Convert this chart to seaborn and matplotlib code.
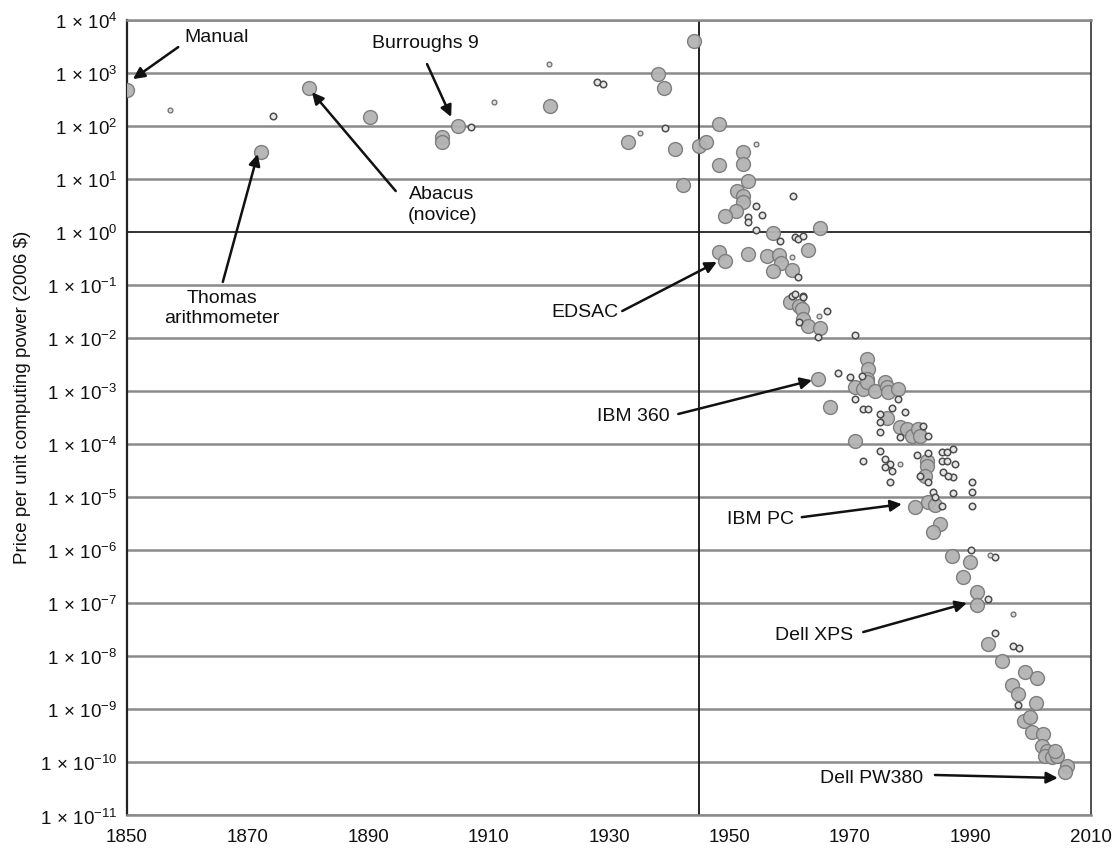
import numpy as np
import pandas as pd
import matplotlib
matplotlib.use("Agg")
import matplotlib.pyplot as plt
import seaborn as sns

# ---------------- data ----------------
years = [
    1850.0, 1857.1, 1874.2, 1872.2, 1880.2, 1890.3, 1902.3, 1902.3, 1904.9, 1907.1,
    1910.9, 1920.0, 1920.2, 1928.0, 1929.0, 1933.2, 1935.1, 1938.1, 1939.1, 1939.3,
    1941.0, 1942.3, 1944.1, 1944.9, 1946.1, 1948.3, 1954.4, 1952.2, 1952.2, 1948.3,
    1953.1, 1951.2, 1952.2, 1952.2, 1951.1, 1949.3, 1954.4, 1955.4, 1953.1, 1953.1,
    1960.5, 1954.4, 1965.0, 1957.3, 1958.4, 1960.9, 1961.4, 1962.2, 1963.0, 1948.3,
    1949.3, 1953.1, 1956.2, 1958.2, 1958.5, 1960.4, 1957.2, 1960.4, 1961.4, 1960.4,
    1962.2, 1960.0, 1960.9, 1961.5, 1962.2, 1962.0, 1962.2, 1963.0, 1961.5, 1965.0,
    1964.7, 1966.2, 1964.9, 1970.8, 1964.7, 1968.0, 1970.0, 1972.8, 1973.0, 1972.8,
    1972.0, 1970.8, 1972.2, 1972.8, 1974.2, 1975.8, 1976.1, 1976.3, 1978.0, 1970.8,
    1978.0, 1966.7, 1972.2, 1973.0, 1977.0, 1979.1, 1975.0, 1975.0, 1976.1, 1978.3,
    1979.5, 1980.3, 1981.3, 1982.1, 1981.6, 1982.9, 1978.3, 1975.0, 1970.8, 1975.0,
    1972.2, 1975.8, 1976.6, 1977.0, 1975.8, 1978.3, 1981.1, 1982.8, 1982.8, 1982.4,
    1981.6, 1982.9, 1985.3, 1986.1, 1987.1, 1985.3, 1986.1, 1987.4, 1985.4, 1987.1,
    1986.3, 1976.6, 1982.9, 1990.2, 1990.2, 1990.2, 1987.1, 1983.8, 1984.1, 1980.8,
    1982.9, 1984.1, 1985.3, 1984.9, 1983.8, 1986.9, 1990.1, 1989.9, 1993.2, 1994.1,
    1988.8, 1991.1, 1991.1, 1992.9, 1997.1, 1994.1, 1992.9, 1997.1, 1998.0, 1995.2,
    1999.0, 2001.0, 1996.9, 1997.9, 1997.9, 2000.9, 1998.9, 1999.9, 2000.2, 2002.0,
    2001.9, 2002.7, 2002.4, 2003.5, 2004.4, 2004.0, 2006.0, 2005.7,
]
prices = [
    4.7e2, 2.0e2, 1.53e2, 3.2e1, 5.2e2, 1.47e2, 6.1e1, 4.9e1, 9.9e1, 9.5e1,
    2.8e2, 1.46e3, 2.36e2, 6.7e2, 6.1e2, 4.9e1, 7.3e1, 9.5e2, 5.2e2, 9.1e1,
    3.65e1, 7.7, 3.96e3, 4.2e1, 4.9e1, 1.08e2, 4.5e1, 3.2e1, 1.9e1, 1.82e1,
    9.1, 5.9, 4.75, 3.66, 2.48, 2.0, 3.08, 2.08, 1.91, 1.54,
    4.75, 1.09, 1.19, 0.95, 0.67, 0.80, 0.73, 0.84, 0.456, 0.418,
    0.283, 0.383, 0.352, 0.367, 0.26, 0.337, 0.183, 0.191, 0.141, 0.062,
    0.062, 0.0477, 0.0675, 0.0401, 0.059, 0.0352, 0.0228, 0.0168, 0.020, 0.0154,
    0.0104, 0.0323, 0.026, 0.0114, 1.69e-3, 2.19e-3, 1.84e-3, 4.0e-3, 2.6e-3, 1.69e-3,
    1.92e-3, 1.19e-3, 1.09e-3, 1.48e-3, 1.0e-3, 1.48e-3, 1.19e-3, 9.6e-4, 1.09e-3, 7.1e-4,
    7.1e-4, 5.0e-4, 4.6e-4, 4.6e-4, 4.8e-4, 4.0e-4, 3.7e-4, 2.6e-4, 3.1e-4, 2.1e-4,
    1.93e-4, 1.42e-4, 1.93e-4, 2.2e-4, 1.42e-4, 1.42e-4, 1.36e-4, 1.69e-4, 1.14e-4, 7.4e-5,
    4.8e-5, 5.2e-5, 4.2e-5, 3.1e-5, 3.7e-5, 4.2e-5, 6.2e-5, 4.8e-5, 3.9e-5, 2.5e-5,
    2.5e-5, 6.8e-5, 7.1e-5, 7.1e-5, 8.1e-5, 4.8e-5, 4.8e-5, 4.2e-5, 3.0e-5, 2.4e-5,
    2.5e-5, 1.93e-5, 1.93e-5, 1.93e-5, 1.25e-5, 6.8e-6, 1.2e-5, 1.25e-5, 1.0e-5, 6.5e-6,
    8.1e-6, 7.1e-6, 6.8e-6, 3.1e-6, 2.2e-6, 7.8e-7, 1.0e-6, 6.0e-7, 8.1e-7, 7.5e-7,
    3.1e-7, 1.6e-7, 9.3e-8, 1.2e-7, 6.3e-8, 2.75e-8, 1.7e-8, 1.56e-8, 1.43e-8, 8.1e-9,
    5.1e-9, 3.9e-9, 2.9e-9, 1.95e-9, 1.21e-9, 1.32e-9, 6.0e-10, 7.2e-10, 3.7e-10, 3.4e-10,
    2.0e-10, 1.64e-10, 1.32e-10, 1.26e-10, 1.32e-10, 1.64e-10, 8.5e-11, 6.6e-11,
]
kinds = [
    "L", "T", "S", "L", "L", "L", "L", "L", "L", "S",
    "T", "T", "L", "S", "S", "L", "T", "L", "L", "S",
    "L", "L", "L", "L", "L", "L", "T", "L", "L", "L",
    "L", "L", "L", "L", "L", "L", "S", "S", "S", "S",
    "S", "S", "L", "L", "S", "S", "S", "S", "L", "L",
    "L", "L", "L", "L", "L", "T", "L", "L", "S", "S",
    "S", "L", "S", "L", "S", "L", "L", "L", "S", "L",
    "S", "S", "T", "S", "L", "S", "S", "L", "L", "L",
    "S", "L", "L", "L", "L", "L", "L", "L", "L", "S",
    "S", "L", "S", "S", "S", "S", "S", "S", "L", "L",
    "L", "L", "L", "S", "L", "S", "S", "S", "L", "S",
    "S", "S", "S", "S", "S", "T", "S", "L", "L", "L",
    "S", "S", "S", "S", "S", "S", "S", "S", "S", "S",
    "S", "S", "S", "S", "S", "S", "S", "S", "S", "L",
    "L", "L", "S", "L", "L", "L", "S", "L", "T", "S",
    "L", "L", "L", "S", "T", "S", "L", "S", "S", "L",
    "L", "L", "L", "L", "S", "L", "L", "L", "L", "L",
    "L", "L", "L", "L", "L", "L", "L", "L",
]

x_ticks = [1850, 1870, 1890, 1910, 1930, 1950, 1970, 1990, 2010]
y_exponents = list(range(-11, 5))
y_label = "Price per unit computing power (2006 $)"

# annotations: label, text position, arrow tail, arrow head (data coords)
annotations = [
    ("Manual", (1864.9, 4.9e3), (1858.5, 3.05e3), (1851.0, 7.6e2)),
    ("Burroughs 9", (1899.6, 3.8e3), (1899.8, 1.46e3), (1903.8, 1.47e2)),
    ("Abacus\n(novice)", (1902.3, 3.36), (1894.6, 5.9), (1880.7, 4.3e2)),
    ("Thomas\narithmometer", (1865.8, 0.038), (1865.9, 0.114), (1871.7, 29.4)),
    ("EDSAC", (1926.0, 0.031), (1932.2, 0.0323), (1947.9, 0.271)),
    ("IBM 360", (1934.1, 3.4e-4), (1941.5, 3.7e-4), (1963.7, 1.6e-3)),
    ("IBM PC", (1955.1, 3.9e-6), (1962.0, 4.2e-6), (1978.6, 7.4e-6)),
    ("Dell XPS", (1964.0, 2.63e-8), (1972.2, 2.87e-8), (1989.4, 1.01e-7)),
    ("Dell PW380", (1973.5, 5.3e-11), (1984.1, 5.8e-11), (2004.5, 5.1e-11)),
]

# ---------------- plotting ----------------
sns.set_style("white")
plt.rcParams["font.family"] = ["Liberation Sans", "DejaVu Sans"]
plt.rcParams["mathtext.fontset"] = "custom"
plt.rcParams["mathtext.rm"] = "Liberation Sans"
plt.rcParams["mathtext.it"] = "Liberation Sans:italic"
plt.rcParams["mathtext.bf"] = "Liberation Sans:bold"

df = pd.DataFrame({"year": years, "price": prices, "kind": kinds})

fig = plt.figure(figsize=(11.2, 8.53), dpi=100)
ax = fig.add_axes([0.1134, 0.0428, 0.8607, 0.9329])

ax.set_yscale("log")
ax.set_xlim(1850, 2010)
ax.set_ylim(1e-11, 1e4)

# horizontal grid lines at each decade
for e in y_exponents:
    if e == 0:
        ax.axhline(10.0 ** e, color="#222222", lw=1.3, zorder=1)
    else:
        ax.axhline(10.0 ** e, color="#8a8a8a", lw=1.8, zorder=1)

ax.axvline(1945, color="#111111", lw=1.3, zorder=2)

styles = {
    "L": dict(s=100, color="#b3b3b3", edgecolor="#7a7a7a", linewidth=1.0),
    "S": dict(s=22, color="#e6e6e6", edgecolor="#444444", linewidth=1.1),
    "T": dict(s=12, color="#dddddd", edgecolor="#666666", linewidth=0.9),
}
for k in ["L", "S", "T"]:
    sub = df[df["kind"] == k]
    sns.scatterplot(data=sub, x="year", y="price", ax=ax, legend=False,
                    zorder=3, alpha=0.95, **styles[k])

for label, txt, tail, head in annotations:
    ax.text(txt[0], txt[1], label, ha="center", va="center", fontsize=14,
            color="#111111", zorder=5, linespacing=1.25)
    ax.annotate("", xy=head, xytext=tail, zorder=5,
                arrowprops=dict(arrowstyle="-|>", color="#111111", lw=1.8,
                                mutation_scale=17, shrinkA=0, shrinkB=0))

ax.set_xticks(x_ticks)
ax.set_xticklabels([str(v) for v in x_ticks], fontsize=13.5)
ax.set_yticks([10.0 ** e for e in y_exponents])
ax.set_yticklabels([r"$1\,\times\,10^{%d}$" % e for e in y_exponents], fontsize=13.5)
ax.minorticks_off()
ax.yaxis.set_minor_locator(matplotlib.ticker.NullLocator())
ax.tick_params(axis="both", which="major", length=4, width=1.0, color="#555555",
               direction="out", pad=3, labelcolor="#111111")
ax.tick_params(axis="x", pad=5)

ax.set_xlabel("")
ax.set_ylabel(y_label, fontsize=13.5, color="#111111")
ax.yaxis.set_label_coords(-0.100, 0.527)

for side in ["top", "bottom"]:
    ax.spines[side].set_color("#8a8a8a")
    ax.spines[side].set_linewidth(1.8)
ax.spines["left"].set_color("#222222")
ax.spines["left"].set_linewidth(1.6)
ax.spines["right"].set_color("#333333")
ax.spines["right"].set_linewidth(1.2)

fig.savefig("out.png", dpi=100)
